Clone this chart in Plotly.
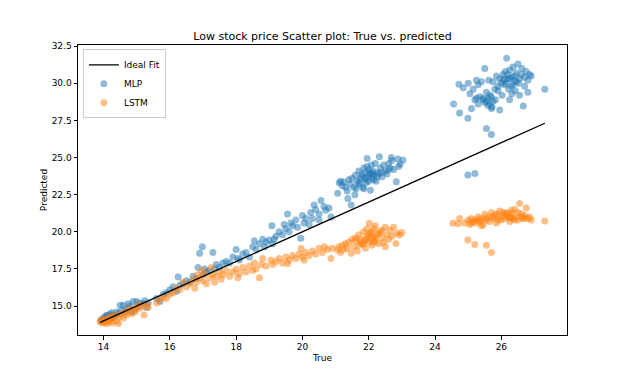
import plotly.graph_objects as go

mlp_true = [
    13.92, 13.95, 14.0, 14.02, 14.05, 14.08, 14.1, 14.12, 14.15, 14.2, 14.22, 14.25, 14.3, 14.35, 14.4, 14.45, 14.5,
    14.55, 14.6, 14.65, 14.7, 14.8, 14.85, 14.9, 15.0, 15.05, 15.1, 15.2, 15.25, 15.3, 15.35, 14.75, 14.95,
    15.6, 15.7, 15.8, 15.9, 16.0, 16.1, 16.2, 16.25, 16.3, 16.4, 16.5, 16.6, 16.7, 16.8, 16.85, 16.9, 16.98, 17.0,
    17.05, 17.1, 17.2, 17.3, 17.35, 17.4, 17.5, 17.6, 17.7, 17.8, 17.9, 18.0, 18.05, 18.1, 18.2, 18.3, 18.4, 18.5,
    18.55, 18.6, 18.7, 18.8, 18.85, 18.9, 19.0, 19.1, 19.15,
    19.08, 19.2, 19.3, 19.4, 19.45, 19.5, 19.6, 19.65, 19.7, 19.8, 19.85, 19.95, 20.0, 20.05, 20.1, 20.2, 20.25,
    20.3, 20.4, 20.5, 20.56, 20.65, 20.7, 20.8, 20.86, 20.5, 19.55, 20.35,
    21.06, 21.11, 21.15, 21.2, 21.25, 21.3, 21.37, 21.4, 21.45, 21.47, 21.5, 21.55, 21.6, 21.62, 21.65, 21.7, 21.72,
    21.75, 21.8, 21.82, 21.85, 21.88, 21.9, 21.93, 21.95, 21.97, 22.0, 22.02, 22.05, 22.08, 22.1, 22.12, 22.15, 22.2,
    22.22, 22.25, 22.3, 22.32, 22.35, 22.4, 22.45, 22.5, 22.55, 22.6, 22.65, 22.68, 22.7, 22.75, 22.83, 22.88, 22.95,
    23.03, 22.9, 21.58, 21.35,
    21.7, 21.8, 21.9, 22.0, 22.1, 21.95, 22.05, 22.15, 22.25, 21.85, 22.4, 22.6,
    24.56, 24.72, 24.74, 24.85, 24.99, 25.0, 25.05, 25.1, 25.15, 25.2, 25.25, 25.3, 25.35, 25.4, 25.45, 25.5, 25.5,
    25.55, 25.55, 25.6, 25.62, 25.65, 25.7, 25.7, 25.72, 25.75, 25.8, 25.82, 25.85, 25.9, 25.95, 26.0, 26.02, 26.05,
    26.1, 26.12, 26.16, 26.2, 26.22, 26.25, 26.3, 26.32, 26.35, 26.4, 26.42, 26.45, 26.5, 26.52, 26.55, 26.6, 26.62,
    26.66, 26.7, 26.75, 26.8, 26.85, 26.9, 27.31, 26.25, 25.3, 25.95, 24.99, 25.2,
    26.05, 26.15, 26.25, 26.35, 26.45, 26.2, 26.3, 26.4, 25.45, 25.55, 25.65, 25.75, 25.6, 25.7, 26.55, 26.7, 26.8,
    25.25, 25.9, 26.1,
]
mlp_pred = [
    14.0, 14.1, 14.05, 14.25, 14.2, 14.35, 14.15, 14.4, 14.3, 14.45, 14.2, 14.55, 14.4, 14.3, 14.6, 14.5, 15.05,
    14.7, 15.05, 14.6, 14.8, 15.0, 14.6, 15.3, 15.3, 14.95, 15.2, 15.15, 15.35, 14.9, 15.2, 15.15, 14.75,
    15.5, 15.3, 15.8, 15.9, 16.1, 16.3, 16.0, 16.95, 16.4, 16.5, 16.7, 16.6, 17.0, 16.85, 17.6, 18.55, 19.0, 17.1,
    17.5, 17.3, 17.4, 18.6, 17.5, 17.8, 17.6, 17.9, 18.0, 17.9, 18.3, 18.8, 18.2, 18.1, 18.5, 18.6, 18.3, 19.0,
    19.4, 18.8, 19.2, 19.5, 19.0, 19.3, 19.45, 19.2, 19.5,
    20.4, 19.7, 20.0, 19.8, 20.5, 20.2, 20.0, 20.6, 20.4, 20.8, 20.3, 19.56, 21.1, 20.6, 20.9, 20.5, 21.3,
    20.9, 21.5, 21.2, 22.1, 21.7, 21.45, 21.6, 21.0, 20.8, 21.2, 21.8,
    22.6, 23.3, 23.4, 23.1, 23.35, 23.0, 22.25, 23.5, 23.2, 21.8, 23.6, 23.0, 23.8, 22.9, 23.4, 24.1, 23.2,
    23.6, 23.9, 23.0, 24.3, 23.5, 24.0, 23.3, 24.94, 23.7, 24.2, 23.9, 22.8, 24.5, 23.6, 24.1, 23.8, 24.6,
    23.4, 24.0, 23.9, 25.06, 24.3, 23.7, 24.5, 24.1, 23.9, 24.6, 24.3, 25.0, 24.8, 24.2, 23.37, 24.9, 24.55,
    24.83, 24.4, 22.5, 22.75,
    23.3, 23.7, 23.6, 23.4, 23.9, 24.4, 24.0, 23.5, 23.7, 22.9, 24.0, 24.2,
    28.6, 29.93, 28.0, 29.7, 27.64, 30.0, 29.3, 28.3, 29.6, 28.9, 30.2, 28.6, 29.1, 30.1, 28.9, 31.0, 28.7,
    26.96, 29.4, 29.0, 30.2, 28.6, 26.56, 29.1, 28.4, 30.1, 29.6, 28.9, 30.5, 29.8, 30.3, 30.0, 29.2, 30.6,
    29.9, 30.8, 31.68, 30.3, 29.6, 30.9, 30.4, 29.3, 31.1, 30.2, 29.5, 30.7, 31.3, 30.0, 29.2, 30.6, 31.0,
    28.47, 30.4, 30.8, 30.2, 30.6, 30.5, 29.6, 28.9, 29.9, 28.2, 23.82, 23.93,
    30.2, 30.0, 30.3, 29.9, 30.1, 30.6, 29.8, 30.5, 29.0, 28.8, 29.2, 28.8, 28.5, 28.3, 30.3, 29.8, 29.4,
    29.0, 29.5, 30.3,
]

lstm_true = [
    13.9, 13.93, 13.96, 14.0, 14.03, 14.06, 14.1, 14.12, 14.15, 14.18, 14.2, 14.25, 14.28, 14.3, 14.35, 14.4, 14.45,
    14.5, 14.55, 14.6, 14.65, 14.7, 14.8, 14.85, 14.9, 15.0, 15.05, 15.1, 15.2, 15.22, 15.3, 15.35, 14.95, 14.75,
    15.6, 15.7, 15.8, 15.9, 16.0, 16.1, 16.2, 16.3, 16.4, 16.5, 16.6, 16.7, 16.75, 16.8, 16.83, 16.9, 17.0, 17.05,
    17.1, 17.2, 17.3, 17.35, 17.4, 17.5, 17.55, 17.6, 17.7, 17.8, 17.9, 18.0, 18.05, 18.1, 18.2, 18.3, 18.4, 18.5,
    18.55, 18.6, 18.7, 18.75, 18.8, 18.9, 17.25, 16.95,
    19.05, 19.1, 19.2, 19.3, 19.4, 19.5, 19.6, 19.7, 19.8, 19.9, 19.96, 20.0, 20.1, 20.2, 20.3, 20.4, 20.5, 20.6,
    20.66, 20.75, 20.86, 20.9, 19.55, 20.05,
    21.06, 21.1, 21.15, 21.2, 21.25, 21.3, 21.35, 21.4, 21.47, 21.5, 21.55, 21.6, 21.65, 21.7, 21.72, 21.75, 21.8,
    21.85, 21.88, 21.9, 21.95, 22.0, 22.02, 22.05, 22.1, 22.12, 22.15, 22.2, 22.25, 22.3, 22.35, 22.4, 22.45, 22.5,
    22.55, 22.6, 22.65, 22.7, 22.75, 22.82, 22.85, 22.93, 23.0, 22.5, 22.2,
    21.6, 21.75, 21.9, 22.0, 22.05, 22.1, 22.2, 22.3, 21.85, 22.4, 22.15, 21.95,
    24.54, 24.74, 24.7, 24.9, 24.99, 25.0, 25.05, 25.1, 25.15, 25.2, 25.2, 25.25, 25.3, 25.35, 25.4, 25.45, 25.5,
    25.55, 25.55, 25.6, 25.65, 25.7, 25.7, 25.75, 25.8, 25.85, 25.9, 25.95, 26.0, 26.05, 26.1, 26.15, 26.2, 26.25,
    26.3, 26.35, 26.4, 26.45, 26.5, 26.55, 26.6, 26.65, 26.7, 26.75, 26.8, 26.85, 26.9, 27.31, 26.3, 25.4,
    25.1, 25.3, 25.5, 25.7, 25.9, 26.1, 26.2, 26.3, 26.4, 26.5, 26.6, 26.7, 26.05, 26.25, 25.85,
]
lstm_pred = [
    13.95, 14.1, 13.85, 14.0, 13.9, 14.15, 13.8, 14.05, 14.2, 13.95, 14.3, 14.1, 13.85, 14.25, 14.4, 14.0, 13.83,
    14.3, 14.5, 14.2, 14.55, 14.4, 14.7, 14.5, 14.8, 14.9, 15.1, 14.85, 15.0, 14.4, 15.1, 14.9, 14.6, 14.8,
    15.2, 15.4, 15.6, 15.5, 15.8, 15.9, 16.2, 16.1, 16.6, 16.3, 16.5, 16.8, 16.2, 16.6, 17.1, 16.9, 16.7, 17.2,
    16.5, 16.9, 17.1, 16.6, 17.0, 17.3, 16.8, 17.1, 17.4, 17.0, 17.3, 17.5, 16.9, 17.2, 17.6, 17.3, 17.7, 17.4,
    17.9, 17.5, 16.9, 17.8, 18.2, 17.7, 17.6, 17.4,
    18.1, 17.8, 18.0, 18.2, 17.9, 18.3, 18.1, 18.4, 18.2, 18.5, 18.88, 18.3, 18.6, 18.4, 18.7, 18.5, 18.9, 18.6,
    19.0, 18.8, 18.2, 18.9, 17.85, 18.1,
    18.77, 19.0, 18.6, 19.1, 18.8, 19.2, 18.9, 19.3, 18.55, 19.5, 19.0, 19.4, 18.7, 19.8, 19.1, 19.5, 19.2,
    20.0, 19.4, 18.9, 19.7, 19.3, 20.57, 19.9, 19.1, 19.6, 20.2, 19.4, 19.8, 19.2, 20.0, 19.6, 19.3, 20.3,
    19.8, 19.5, 20.1, 19.7, 20.3, 19.22, 19.9, 19.78, 19.95, 19.0, 20.4,
    19.6, 19.3, 19.5, 19.8, 19.5, 20.0, 19.6, 19.9, 19.2, 20.1, 19.3, 20.2,
    20.57, 20.9, 20.55, 20.6, 19.44, 20.8, 20.5, 20.9, 20.7, 19.15, 20.8, 20.6, 21.0, 20.7, 20.9, 20.5, 21.2,
    19.1, 20.8, 21.0, 20.7, 18.6, 21.3, 20.9, 21.1, 20.6, 21.0, 21.4, 20.8, 21.1, 20.9, 21.3, 21.0, 20.7,
    21.2, 20.9, 21.5, 21.0, 20.8, 21.9, 21.2, 20.9, 21.1, 21.6, 20.9, 21.0, 20.8, 20.72, 21.45, 20.4,
    20.6, 20.8, 20.9, 21.0, 20.8, 21.1, 21.2, 21.0, 20.8, 21.3, 21.0, 20.9, 21.3, 20.95, 21.2,
]

ideal_x = [13.9, 27.31]
ideal_y = [13.9, 27.31]

x_ticks = [14, 16, 18, 20, 22, 24, 26]
y_ticks = [15.0, 17.5, 20.0, 22.5, 25.0, 27.5, 30.0, 32.5]

FONT = "DejaVu Sans"

fig = go.Figure()
fig.add_trace(go.Scatter(
    x=mlp_true, y=mlp_pred, mode="markers", name="MLP", legendrank=2,
    marker=dict(color="#1f77b4", size=7, opacity=0.5, line=dict(width=0)),
))
fig.add_trace(go.Scatter(
    x=lstm_true, y=lstm_pred, mode="markers", name="LSTM", legendrank=3,
    marker=dict(color="#ff7f0e", size=7, opacity=0.5, line=dict(width=0)),
))
fig.add_trace(go.Scatter(
    x=ideal_x, y=ideal_y, mode="lines", name="Ideal Fit", legendrank=1,
    line=dict(color="black", width=1.3),
))

axis_common = dict(
    showgrid=False, zeroline=False, showline=True, linecolor="black", linewidth=1,
    mirror=True, ticks="outside", ticklen=3.5, tickwidth=0.8, tickcolor="black",
    tickfont=dict(family=FONT, size=9, color="black"),
)

fig.update_layout(
    width=629, height=377,
    margin=dict(l=70, r=70, t=37, b=50),
    paper_bgcolor="white", plot_bgcolor="white",
    font=dict(family=FONT, color="black"),
    title=dict(
        text="Low stock price Scatter plot: True vs. predicted",
        x=0.5, xref="paper", y=1 - 28 / 377, yref="container",
        xanchor="center", yanchor="middle",
        font=dict(family=FONT, size=11, color="black"),
    ),
    xaxis=dict(range=[13.23, 27.98], tickvals=x_ticks,
               title=dict(text="True", font=dict(family=FONT, size=9), standoff=3),
               **axis_common),
    yaxis=dict(range=[13.05, 32.58], tickvals=y_ticks, tickformat=".1f",
               title=dict(text="Predicted", font=dict(family=FONT, size=9), standoff=2),
               **axis_common),
    legend=dict(
        x=0.01, y=0.985, xanchor="left", yanchor="top",
        bgcolor="rgba(255,255,255,0.8)", bordercolor="#cccccc", borderwidth=1,
        font=dict(family=FONT, size=9, color="black"),
        itemwidth=30, tracegroupgap=0,
    ),
    showlegend=True,
)

fig.write_html("out.html")
